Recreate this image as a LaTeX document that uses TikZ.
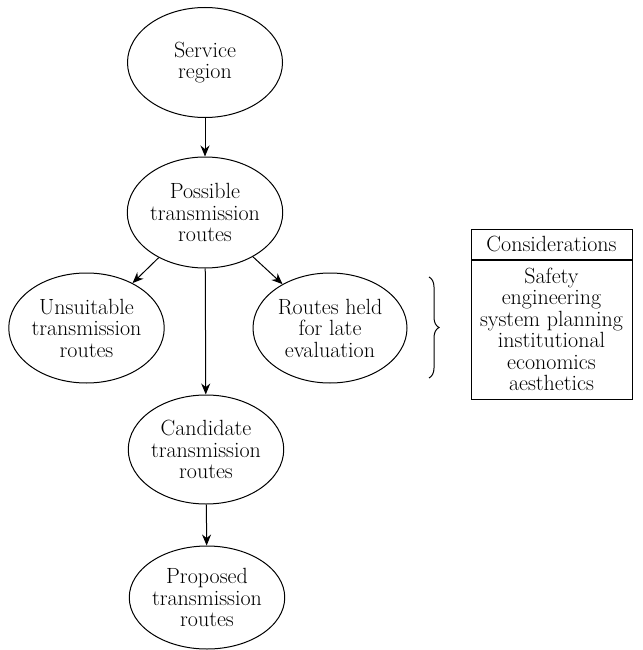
\documentclass[tikz,border=0pt]{standalone}
\usetikzlibrary{shapes.geometric,arrows.meta,decorations.pathreplacing}
\begin{document}
\begin{tikzpicture}[x=1pt,y=-1pt,
  every node/.style={font=\fontsize{22}{21.5}\selectfont, align=center, inner sep=0pt},
  oval/.style={draw, ellipse, line width=1pt, minimum width=155pt, minimum height=110pt},
  arr/.style={-{Stealth[length=11pt,width=9pt]}, line width=1pt},
  boxpart/.style={draw, rectangle, line width=1pt, minimum width=161pt}]
\useasboundingbox (0,0) rectangle (642,650);
\node[oval] (svc) at (205,62.5) {Service\\region};
\node[oval, minimum height=111pt] (pos) at (205,212.5) {Possible\\transmission\\routes};
\node[oval] (uns) at (86.5,328) {Unsuitable\\transmission\\routes};
\node[oval, minimum width=154pt] (held) at (330,328) {Routes held\\for late\\evaluation};
\node[oval, minimum height=109pt] (cand) at (206,449.5) {Candidate\\transmission\\routes};
\node[oval, minimum height=103pt] (prop) at (207,597.5) {Proposed\\transmission\\routes};
\draw[arr] (svc) -- (pos);
\draw[arr] (pos) -- (uns);
\draw[arr] (pos) -- (held);
\draw[arr] (pos) -- (cand);
\draw[arr] (cand) -- (prop);
\coordinate (bt) at (429,277);
\coordinate (bb) at (429,378);
\draw[line width=1pt, decorate, decoration={brace, amplitude=10pt}] (bt) -- (bb);
\node[boxpart, minimum height=30pt] (hdr) at (551.5,244) {Considerations};
\node[boxpart, minimum height=139pt, anchor=north] (lst) at (hdr.south) {Safety\\engineering\\system planning\\institutional\\economics\\aesthetics};
\end{tikzpicture}
\end{document}
